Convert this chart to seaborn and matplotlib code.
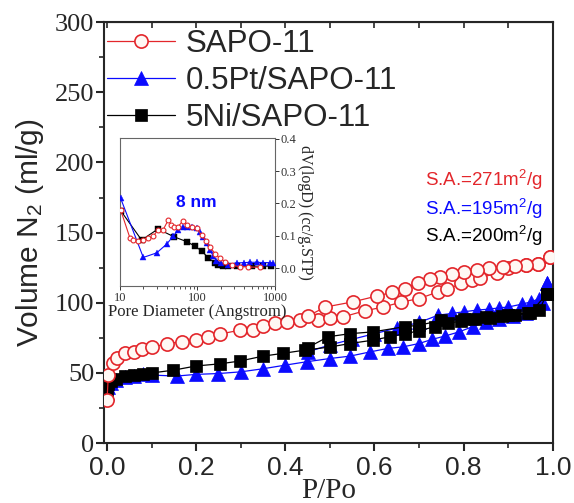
import matplotlib
matplotlib.use("Agg")
import matplotlib.pyplot as plt
import seaborn as sns
import pandas as pd
from matplotlib.ticker import MultipleLocator, NullFormatter, LogLocator

# ---------------- data ----------------
sapo_ads_p = [0.0, 0.003, 0.014, 0.022, 0.04, 0.06, 0.078, 0.10, 0.134, 0.168, 0.20, 0.227, 0.253,
              0.298, 0.328, 0.35, 0.377, 0.403, 0.433, 0.474, 0.50, 0.53, 0.578, 0.62, 0.66,
              0.70, 0.743, 0.762, 0.795, 0.818, 0.836, 0.874, 0.90, 0.94, 0.967, 0.993]
sapo_ads_v = [30.6, 48.5, 56.8, 60.4, 63.9, 65.0, 66.8, 68.2, 71.0, 72.2, 73.4, 75.8, 77.7,
              80.5, 80.5, 83.4, 85.3, 86.5, 87.7, 87.7, 88.9, 90.0, 94.3, 97.0, 100.5,
              103.0, 107.8, 109.5, 113.8, 116.2, 117.4, 121.4, 124.5, 126.8, 128.0, 132.3]
sapo_des_p = [0.993, 0.967, 0.94, 0.915, 0.889, 0.858, 0.83, 0.80, 0.773, 0.747, 0.724, 0.698,
              0.668, 0.64, 0.605, 0.552, 0.49, 0.45]
sapo_des_v = [132.3, 128.0, 127.0, 126.2, 125.7, 124.5, 123.3, 122.0, 120.5, 118.5, 116.7, 114.3,
              110.0, 107.5, 104.8, 100.7, 97.0, 90.5]

pt_ads_p = [0.0, 0.003, 0.01, 0.02, 0.04, 0.06, 0.08, 0.10, 0.156, 0.20, 0.25, 0.30, 0.35, 0.40,
            0.448, 0.50, 0.545, 0.59, 0.63, 0.664, 0.70, 0.73, 0.758, 0.79, 0.82, 0.85, 0.88,
            0.91, 0.94, 0.96, 0.978, 0.986]
pt_ads_v = [35.6, 40.0, 43.0, 45.0, 47.0, 48.0, 49.0, 48.5, 47.8, 49.0, 49.6, 50.8, 53.0, 55.6,
            58.0, 60.3, 62.0, 65.0, 67.5, 68.6, 71.0, 74.0, 76.3, 79.3, 83.0, 86.0, 88.5,
            90.5, 93.0, 96.0, 99.6, 114.0]
pt_des_p = [0.986, 0.97, 0.952, 0.93, 0.90, 0.88, 0.857, 0.83, 0.80, 0.773, 0.743, 0.70, 0.65,
            0.60, 0.55, 0.50, 0.45]
pt_des_v = [114.0, 103.0, 100.7, 99.0, 97.0, 96.4, 95.5, 94.8, 93.6, 92.4, 91.2, 86.0, 82.0,
            78.0, 74.0, 70.0, 65.0]

ni_ads_p = [0.0, 0.003, 0.01, 0.02, 0.04, 0.06, 0.08, 0.10, 0.149, 0.20, 0.253, 0.298, 0.35,
            0.395, 0.444, 0.50, 0.545, 0.597, 0.634, 0.668, 0.70, 0.735, 0.765, 0.795, 0.826,
            0.86, 0.885, 0.915, 0.945, 0.97, 0.986]
ni_ads_v = [37.8, 42.0, 44.0, 46.0, 47.5, 48.5, 49.5, 50.0, 52.0, 55.0, 56.5, 58.5, 62.0,
            64.0, 66.3, 68.5, 71.0, 73.4, 75.8, 78.0, 80.0, 83.0, 85.5, 87.0, 88.5,
            89.5, 90.5, 91.3, 92.6, 94.8, 106.0]
ni_des_p = [0.986, 0.95, 0.90, 0.85, 0.80, 0.75, 0.70, 0.668, 0.597, 0.545, 0.496, 0.45]
ni_des_v = [106.0, 93.0, 91.5, 90.0, 88.5, 87.5, 84.0, 83.0, 79.3, 78.0, 75.8, 68.0]

# pore size distribution (inset)
psd_sapo_d = [10.2, 13.5, 14.8, 17, 20, 23.2, 26.9, 31, 36, 42, 46, 50, 56, 65.6, 73, 84, 97.6,
              113, 128, 145, 168, 195, 227, 276, 355, 450, 640]
psd_sapo_v = [0.18, 0.092, 0.087, 0.083, 0.087, 0.092, 0.099, 0.118, 0.118, 0.149, 0.133, 0.127,
              0.128, 0.147, 0.133, 0.128, 0.123, 0.102, 0.085, 0.066, 0.045, 0.030, 0.02, 0.009,
              0.004, 0.004, 0.002]
psd_pt_d = [10.2, 20, 29.7, 40, 48.7, 56.6, 65.6, 73.7, 84, 97.6, 107.5, 118, 131, 145, 160, 176,
            204, 250, 320, 400, 475, 580, 708, 861, 946]
psd_pt_v = [0.216, 0.033, 0.047, 0.074, 0.099, 0.118, 0.126, 0.128, 0.128, 0.123, 0.113, 0.097,
            0.077, 0.056, 0.037, 0.023, 0.015, 0.011, 0.016, 0.017, 0.018, 0.018, 0.017, 0.017,
            0.016]
psd_ni_d = [10.2, 19, 31, 49.6, 72.5, 92.7, 113, 138, 168, 186, 211, 250, 320, 500, 708, 900]
psd_ni_v = [0.178, 0.087, 0.121, 0.097, 0.082, 0.068, 0.053, 0.032, 0.016, 0.011, 0.007, 0.007,
            0.007, 0.006, 0.006, 0.006]

labels = ["SAPO-11", "0.5Pt/SAPO-11", "5Ni/SAPO-11"]
sa_texts = ["S.A.=271m$^2$/g", "S.A.=195m$^2$/g", "S.A.=200m$^2$/g"]
x_ticks = [0.0, 0.2, 0.4, 0.6, 0.8, 1.0]
x_ticklabels = ["0.0", "0.2", "0.4", "0.6", "0.8", "1.0"]

# ---------------- style ----------------
sns.set_style("ticks")
plt.rcParams["font.family"] = ["Liberation Sans", "DejaVu Sans"]
plt.rcParams["mathtext.fontset"] = "custom"
plt.rcParams["mathtext.rm"] = "Liberation Sans"
plt.rcParams["mathtext.it"] = "Liberation Sans:italic"

RED = "#e3262b"
BLUE = "#0a0aff"
BLACK = "#000000"
SERIF = ["Liberation Serif", "DejaVu Serif"]

fig = plt.figure(figsize=(5.74, 5.03), dpi=100)
ax = fig.add_axes([0.181, 0.119, 0.782, 0.837])

styles = {
    "SAPO-11": dict(color=RED, marker="o", markersize=9.5, markerfacecolor="#fff8f4",
                    markeredgecolor=RED, markeredgewidth=1.2, linewidth=0.9, zorder=4),
    "0.5Pt/SAPO-11": dict(color=BLUE, marker="^", markersize=10, markerfacecolor=BLUE,
                          markeredgecolor=BLUE, markeredgewidth=0.5, linewidth=0.9, zorder=2),
    "5Ni/SAPO-11": dict(color=BLACK, marker="s", markersize=8.5, markerfacecolor=BLACK,
                        markeredgecolor=BLACK, markeredgewidth=0.5, linewidth=0.9, zorder=3),
}
series = {
    "SAPO-11": (sapo_ads_p, sapo_ads_v, sapo_des_p, sapo_des_v),
    "0.5Pt/SAPO-11": (pt_ads_p, pt_ads_v, pt_des_p, pt_des_v),
    "5Ni/SAPO-11": (ni_ads_p, ni_ads_v, ni_des_p, ni_des_v),
}
for name in ["0.5Pt/SAPO-11", "5Ni/SAPO-11", "SAPO-11"]:
    ap, av, dp, dv = series[name]
    st = styles[name]
    sns.lineplot(data=pd.DataFrame({"P": ap, "V": av}), x="P", y="V", ax=ax, sort=False,
                 estimator=None, label=name, **st)
    sns.lineplot(data=pd.DataFrame({"P": dp, "V": dv}), x="P", y="V", ax=ax, sort=False,
                 estimator=None, label="_nolegend_", **st)

ax.set_xlim(-0.007, 1.0)
ax.set_ylim(0, 300)
ax.set_xticks(x_ticks)
ax.set_xticklabels(x_ticklabels)
ax.xaxis.set_minor_locator(MultipleLocator(0.1))
ax.yaxis.set_major_locator(MultipleLocator(50))
ax.yaxis.set_minor_locator(MultipleLocator(25))
ax.tick_params(axis="both", which="major", direction="out", length=6, width=1.5)
ax.tick_params(axis="both", which="minor", direction="out", length=3.5, width=1.2)
ax.tick_params(axis="x", labelsize=19, pad=3)
ax.tick_params(axis="y", labelsize=19, pad=1)
for lab in ax.get_yticklabels():
    lab.set_family(SERIF)
for sp in ax.spines.values():
    sp.set_linewidth(1.5)
    sp.set_visible(True)

top = ax.secondary_xaxis("top")
top.xaxis.set_major_locator(MultipleLocator(0.1))
top.tick_params(direction="in", length=4, width=1.2, labeltop=False)
top.xaxis.set_major_formatter(NullFormatter())

ax.set_xlabel("P/Po", fontsize=21, family=SERIF, labelpad=-1.5)
ax.set_ylabel("Volume N$_2$ (ml/g)", fontsize=21.5, labelpad=6)

handles, labs = ax.get_legend_handles_labels()
order = [labs.index(n) for n in labels]
leg = ax.legend([handles[i] for i in order], [labs[i] for i in order], loc="upper left",
                bbox_to_anchor=(0.008, 0.983), frameon=False, fontsize=22.5, handlelength=2.15,
                handletextpad=0.35, labelspacing=0.22, borderpad=0.0, borderaxespad=0.0,
                numpoints=1)

sa_colors = [RED, BLUE, BLACK]
sa_y = [0.625, 0.556, 0.492]
for t, c, yy in zip(sa_texts, sa_colors, sa_y):
    ax.text(0.715, yy, t, color=c, fontsize=13.5, transform=ax.transAxes, va="center", ha="left")

# ---------------- inset ----------------
ins = fig.add_axes([0.209, 0.431, 0.270, 0.295])
ins_styles = [
    (psd_sapo_d, psd_sapo_v, dict(color=RED, marker="o", markersize=3.5, markerfacecolor="white",
                                  markeredgecolor=RED, markeredgewidth=0.8, linewidth=0.8, zorder=4)),
    (psd_pt_d, psd_pt_v, dict(color=BLUE, marker="^", markersize=5, markerfacecolor=BLUE,
                              markeredgecolor=BLUE, markeredgewidth=0.3, linewidth=0.8, zorder=3)),
    (psd_ni_d, psd_ni_v, dict(color=BLACK, marker="s", markersize=4.2, markerfacecolor=BLACK,
                              markeredgecolor=BLACK, markeredgewidth=0.3, linewidth=0.8, zorder=2)),
]
for d, v, st in ins_styles:
    sns.lineplot(data=pd.DataFrame({"D": d, "V": v}), x="D", y="V", ax=ins, sort=False,
                 estimator=None, legend=False, **st)
ins.set_xscale("log")
ins.set_xlim(10, 1000)
ins.set_ylim(-0.056, 0.403)
ins.yaxis.tick_right()
ins.yaxis.set_label_position("right")
ins.xaxis.set_minor_locator(LogLocator(base=10, subs=range(2, 10)))
ins.xaxis.set_minor_formatter(NullFormatter())
ins.set_xticks([10, 100, 1000])
ins.set_xticklabels(["10", "100", "1000"])
ins.set_yticks([0.0, 0.1, 0.2, 0.3, 0.4])
ins.set_yticklabels(["0.0", "0.1", "0.2", "0.3", "0.4"])
ins.tick_params(axis="both", which="major", direction="out", length=3, width=0.7,
                labelsize=9, pad=1, colors="#333333")
ins.tick_params(axis="x", which="minor", direction="out", length=1.8, width=0.6, colors="#333333")
for lab in ins.get_xticklabels() + ins.get_yticklabels():
    lab.set_family(SERIF)
for sp in ins.spines.values():
    sp.set_visible(True)
    sp.set_linewidth(0.8)
    sp.set_color("#666666")
ins.set_xlabel("Pore Diameter (Angstrom)", fontsize=12, family=SERIF, labelpad=0)
ins.set_ylabel("dV(logD) (cc/g.STP)", fontsize=11.5, family=SERIF, rotation=270, labelpad=12)
ins.text(0.494, 0.561, "8 nm", color=BLUE, fontsize=12.5, fontweight="bold",
         transform=ins.transAxes, ha="center", va="center")

fig.savefig("out.png", dpi=100)
